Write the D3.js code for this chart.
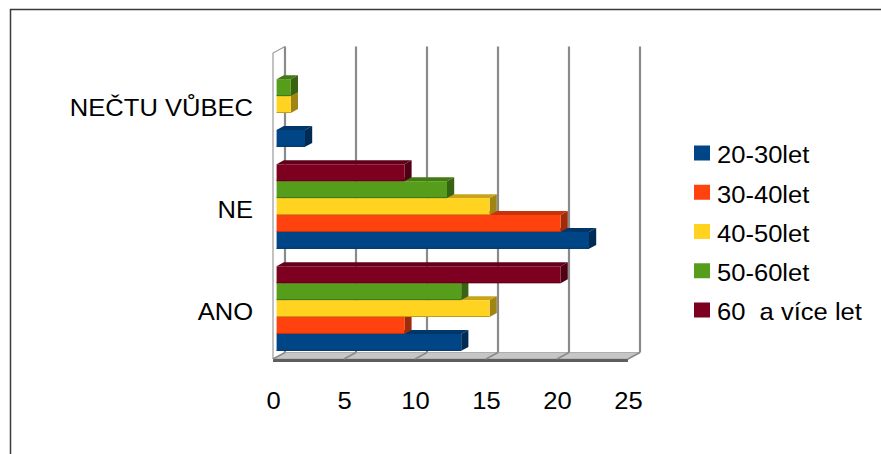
<!DOCTYPE html>
<html>
<head>
<meta charset="utf-8">
<script src="https://cdn.jsdelivr.net/npm/d3@7"></script>
<style>
  html, body { margin: 0; padding: 0; background: #fff; }
  svg { display: block; font-family: "Liberation Sans", Arial, sans-serif; }
  text { fill: #000; }
</style>
</head>
<body>
<svg id="chart" width="881" height="454"></svg>
<script>
// Answers by age group
const categories = ["ANO", "NE", "NEČTU VŮBEC"];
const seriesNames = ["20-30let", "30-40let", "40-50let", "50-60let", "60  a více let"];
const values2030 = [13, 22, 2];
const values3040 = [9, 20, 0];
const values4050 = [15, 15, 1];
const values5060 = [13, 12, 1];
const values60plus = [20, 9, 0];
const seriesValues = [values2030, values3040, values4050, values5060, values60plus];
const seriesColors = ["#004586", "#ff420e", "#ffd320", "#579d1c", "#7e0021"];
const xTicks = [0, 5, 10, 15, 20, 25];

const FONT = 24, STRETCH = 1.065;
const svg = d3.select("#chart");

// outer frame
svg.append("rect")
  .attr("x", 10.5).attr("y", 9.5)
  .attr("width", 900).attr("height", 500)
  .attr("fill", "none").attr("stroke", "#3a3a3a").attr("stroke-width", 1.5);

// front-plane scales; depth is an oblique offset toward the back wall
const x = d3.scaleLinear().domain([0, 25]).range([273, 628]);
const y = d3.scaleBand().domain(categories.slice().reverse())
  .range([55.5, 361.5]).paddingInner(0.171).paddingOuter(0.0855);
const DX = 12, DY = -6.5;
const px = (v, z) => x(v) + z * DX;
const py = (yy, z) => yy + z * DY;
const yBottom = 359, yTop = 53;

const g = svg.append("g");

// left side wall
g.append("path")
  .attr("d", `M${px(0,0)},${py(yBottom,0)} L${px(0,0)},${py(yTop,0)} L${px(0,1)},${py(yTop,1)}`)
  .attr("fill", "none").attr("stroke", "#9a9a9a").attr("stroke-width", 1.2);

// floor slab
g.append("path")
  .attr("d", `M${px(0,0)},${py(yBottom,0)} L${px(25,0)},${py(yBottom,0)} L${px(25,1)},${py(yBottom,1)} L${px(0,1)},${py(yBottom,1)} Z`)
  .attr("fill", "#c6c6c6").attr("stroke", "#a0a0a0").attr("stroke-width", 0.8);
g.append("rect")
  .attr("x", px(0,0)).attr("y", py(yBottom,0))
  .attr("width", px(25,0) - px(0,0)).attr("height", 3)
  .attr("fill", "#5e5e5e");

// gridlines on the back wall and across the floor
g.selectAll("line.grid").data(xTicks).join("line")
  .attr("class", "grid")
  .attr("x1", d => px(d,1)).attr("x2", d => px(d,1))
  .attr("y1", py(yTop,1)).attr("y2", py(yBottom,1))
  .attr("stroke", "#8a8a8a").attr("stroke-width", 2.2);
g.selectAll("line.floor").data(xTicks).join("line")
  .attr("class", "floor")
  .attr("x1", d => px(d,1)).attr("x2", d => px(d,0))
  .attr("y1", py(yBottom,1)).attr("y2", py(yBottom,0))
  .attr("stroke", "#8a8a8a").attr("stroke-width", 1.5);

// 3D bars: bottom slot first so the bar above covers its top face
const zf = 0.3, zb = 0.9;
const slot = y.bandwidth() / seriesNames.length;
const bars = [];
categories.forEach((c, ci) => {
  seriesValues.forEach((vals, si) => {
    const v = vals[ci];
    if (v > 0) bars.push({ c, si, v });
  });
});
bars.sort((a, b) => (y(b.c) - y(a.c)) || (a.si - b.si));

const barG = g.append("g");
bars.forEach(b => {
  const yb = y(b.c) + y.bandwidth() - b.si * slot;
  const yt = yb - slot;
  const col = d3.color(seriesColors[b.si]);
  const x0f = px(0, zf), x1f = px(b.v, zf), x0b = px(0, zb), x1b = px(b.v, zb);
  const tf = py(yt, zf), bf = py(yb, zf), tb = py(yt, zb), bb = py(yb, zb);
  const bg = barG.append("g");
  // top face
  bg.append("path")
    .attr("d", `M${x0f},${tf} L${x1f},${tf} L${x1b},${tb} L${x0b},${tb} Z`)
    .attr("fill", col.darker(0.7));
  // end face
  bg.append("path")
    .attr("d", `M${x1f},${tf} L${x1b},${tb} L${x1b},${bb} L${x1f},${bf} Z`)
    .attr("fill", col.darker(1.3));
  // front face
  bg.append("rect")
    .attr("x", x0f).attr("y", tf)
    .attr("width", x1f - x0f).attr("height", bf - tf)
    .attr("fill", col);
  bg.append("line")
    .attr("x1", x0f).attr("x2", x1f).attr("y1", bf - 0.5).attr("y2", bf - 0.5)
    .attr("stroke", col.darker(0.8)).attr("stroke-width", 1);
});

// value axis
const xAxis = d3.axisBottom(x).tickValues(xTicks).tickSize(0).tickPadding(32.5);
const xg = svg.append("g").attr("transform", `translate(0,${yBottom})`).call(xAxis);
xg.select(".domain").remove();
xg.selectAll("text")
  .attr("font-size", FONT).attr("font-family", "Liberation Sans, Arial, sans-serif")
  .attr("transform", `scale(${STRETCH},1)`);

// category axis
const yAxis = d3.axisLeft(y).tickSize(0).tickPadding(0);
const yg = svg.append("g").attr("transform", `translate(${x(0)},1.5)`).call(yAxis);
yg.select(".domain").remove();
yg.selectAll("text")
  .attr("font-size", FONT).attr("font-family", "Liberation Sans, Arial, sans-serif")
  .attr("x", 0)
  .attr("transform", `translate(-20,0) scale(${STRETCH},1)`);

// legend
const legend = svg.append("g");
seriesNames.forEach((name, i) => {
  const cy = 153 + i * 39.25;
  legend.append("rect")
    .attr("x", 694).attr("y", cy - 7.5)
    .attr("width", 16).attr("height", 15)
    .attr("fill", seriesColors[i]);
  legend.append("text")
    .attr("x", 0).attr("y", cy + 10.5)
    .attr("transform", `translate(717,0) scale(${STRETCH},1)`)
    .attr("font-size", FONT)
    .style("white-space", "pre")
    .text(name);
});
</script>
</body>
</html>
